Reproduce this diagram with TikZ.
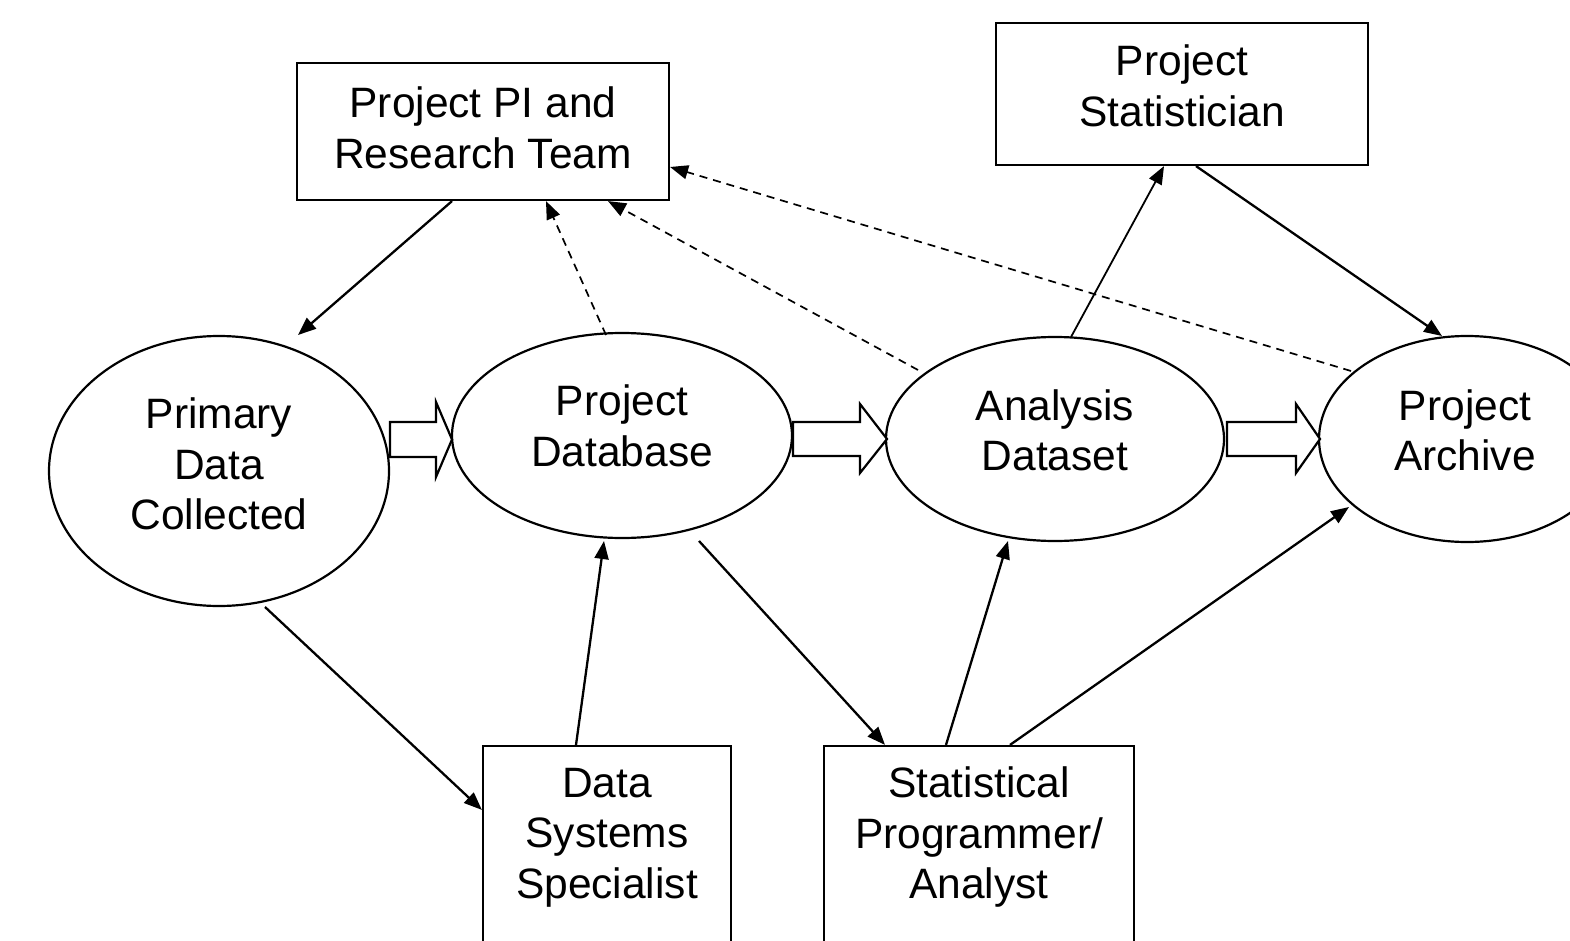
\documentclass[tikz,border=0pt]{standalone}
\usepackage{fontspec}
\setmainfont{Liberation Sans}
\usetikzlibrary{shapes.geometric,arrows.meta}
\begin{document}
\begin{tikzpicture}[x=1pt,y=-1pt,
  box/.style={draw,line width=2.2pt,fill=white,rectangle,inner sep=0pt},
  oval/.style={draw,line width=2.2pt,ellipse,inner sep=0pt},
  txt/.style={align=center,inner sep=0pt,font=\fontsize{42.5}{50.5}\selectfont},
  conn/.style={line width=2.3pt,-{Triangle[length=18pt,width=14pt]}},
  thinconn/.style={line width=1.8pt,-{Triangle[length=18pt,width=14pt]}},
  dconn/.style={line width=1.7pt,dash pattern=on 8pt off 6pt,-{Triangle[length=18pt,width=14pt]}},
  barrow/.style={draw,line width=2.2pt,fill=white,line join=miter}]
\useasboundingbox (0,0) rectangle (1570,941);
\clip (0,0) rectangle (1570,941);

% boxes
\node[box,minimum width=372pt,minimum height=137pt] (pi) at (483,131.5) {};
\node[box,minimum width=372pt,minimum height=142pt] (stat) at (1182,94) {};
\node[box,minimum width=248pt,minimum height=230pt] (dss) at (607,861) {};
\node[box,minimum width=310pt,minimum height=230pt] (spa) at (979,861) {};

% ellipses
\node[oval,minimum width=340pt,minimum height=270pt] (prim) at (219,471) {};
\node[oval,minimum width=340pt,minimum height=205pt] (pdb) at (622,435.5) {};
\node[oval,minimum width=338pt,minimum height=204pt] (ads) at (1055,439) {};
\node[oval,minimum width=296pt,minimum height=206pt] (arc) at (1467,439) {};

% texts
\node[txt] (piT) at (483,128) {Project PI and\\Research Team};
\node[txt] (statT) at (1182,86) {Project\\Statistician};
\node[txt] (dssT) at (607,837.5) {Data\\Systems\\Specialist};
\node[txt] (spaT) at (979,837.5) {Statistical\\Programmer/\\Analyst};
\node[txt] (primT) at (219,464) {Primary\\Data\\Collected};
\node[txt] (pdbT) at (622,426) {Project\\Database};
\node[txt] (adsT) at (1055,430.5) {Analysis\\Dataset};
\node[txt] (arcT) at (1465,430.5) {Project\\Archive};

% block arrows
\draw[barrow] (390,422) -- (436,422) -- (436,402) -- (452,439.5) -- (436,477) -- (436,457) -- (390,457) -- cycle;
\draw[barrow] (793,422) -- (860,422) -- (860,404) -- (887,439) -- (860,473) -- (860,456) -- (793,456) -- cycle;
\draw[barrow] (1227,422) -- (1296,422) -- (1296,404) -- (1320,439) -- (1296,473) -- (1296,456) -- (1227,456) -- cycle;

% solid connectors
\draw[conn] ([shift={(-31,0)}]pi.south) -- ([shift={(79,-136)}]prim.center);
\draw[conn] ([shift={(46,136)}]prim.center) -- ([shift={(0,65)}]dss.north west);
\draw[conn] ([shift={(-31,0)}]dss.north) -- ([shift={(-18,105.5)}]pdb.center);
\draw[conn] ([shift={(77,105.5)}]pdb.center) -- ([shift={(-94,0)}]spa.north);
\draw[conn] ([shift={(-33,0)}]spa.north) -- ([shift={(-47,102)}]ads.center);
\draw[conn] ([shift={(31,0)}]spa.north) -- ([shift={(-118,68)}]arc.center);
\draw[thinconn] ([shift={(16,-102)}]ads.center) -- ([shift={(-18,0)}]stat.south);
\draw[conn] ([shift={(14,0)}]stat.south) -- ([shift={(-25,-103)}]arc.center);

% dashed connectors
\draw[dconn] ([shift={(-16,-100.5)}]pdb.center) -- ([shift={(63,0)}]pi.south);
\draw[dconn] ([shift={(-137,-69)}]ads.center) -- ([shift={(125,0)}]pi.south);
\draw[dconn] ([shift={(-116,-68)}]arc.center) -- ([shift={(0,35.5)}]pi.east);
\end{tikzpicture}
\end{document}
